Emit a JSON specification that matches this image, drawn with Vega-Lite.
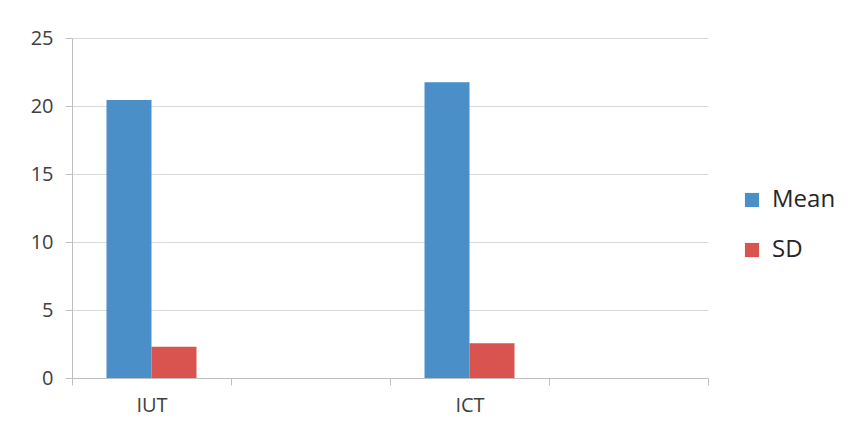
{
  "$schema": "https://vega.github.io/schema/vega-lite/v6.json",
  "width": 636,
  "height": 340,
  "autosize": {"type": "none"},
  "padding": {"left": 72, "top": 38, "right": 148, "bottom": 56},
  "background": "white",
  "config": {
    "view": {"stroke": null},
    "font": "Open Sans"
  },
  "data": {
    "values": [
      {"group": "IUT", "series": "Mean", "value": 20.45},
      {"group": "IUT", "series": "SD", "value": 2.3},
      {"group": "ICT", "series": "Mean", "value": 21.75},
      {"group": "ICT", "series": "SD", "value": 2.55}
    ]
  },
  "mark": {"type": "bar"},
  "encoding": {
    "x": {
      "field": "group",
      "type": "nominal",
      "scale": {"domain": ["IUT", "gap1", "ICT", "gap2"], "paddingInner": 0, "paddingOuter": 0},
      "axis": {
        "title": null,
        "labelAngle": 0,
        "labelExpr": "datum.label == 'IUT' || datum.label == 'ICT' ? datum.label : ''",
        "tickBand": "extent",
        "labelFontSize": 20,
        "labelColor": "#404040",
        "labelPadding": 10,
        "domainColor": "#bfbfbf",
        "tickColor": "#bfbfbf",
        "tickSize": 7,
        "grid": false
      }
    },
    "xOffset": {
      "field": "series",
      "type": "nominal",
      "scale": {"domain": ["Mean", "SD"], "paddingInner": 0, "paddingOuter": 0.767}
    },
    "y": {
      "field": "value",
      "type": "quantitative",
      "scale": {"domain": [0, 25], "nice": false},
      "axis": {
        "title": null,
        "values": [0, 5, 10, 15, 20, 25],
        "labelFontSize": 20,
        "labelColor": "#404040",
        "labelPadding": 12,
        "domainColor": "#bfbfbf",
        "tickColor": "#bfbfbf",
        "tickSize": 7,
        "gridColor": "#d9d9d9",
        "grid": true
      }
    },
    "color": {
      "field": "series",
      "type": "nominal",
      "scale": {"domain": ["Mean", "SD"], "range": ["#4a8fc8", "#d9534f"]},
      "legend": {
        "title": null,
        "orient": "none",
        "legendX": 668,
        "legendY": 150,
        "symbolType": "square",
        "symbolSize": 200,
        "symbolStrokeWidth": 0,
        "labelFontSize": 24,
        "labelColor": "#262626",
        "rowPadding": 26,
        "labelOffset": 8
      }
    }
  }
}
